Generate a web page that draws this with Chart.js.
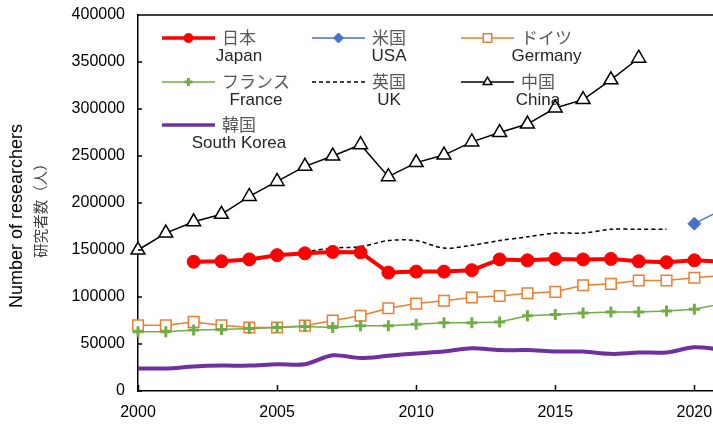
<!DOCTYPE html>
<html>
<head>
<meta charset="utf-8">
<script src="https://cdn.jsdelivr.net/npm/chart.js@4.4.1/dist/chart.umd.min.js"></script>
<style>
  html, body { margin: 0; padding: 0; background: #ffffff; overflow: hidden; }
  #wrap { width: 713px; height: 426px; position: relative; }
</style>
</head>
<body>
<div id="wrap"><canvas id="chart" width="713" height="426"></canvas></div>
<script>
// Number of researchers by country, 2000-2021
const years = [2000, 2001, 2002, 2003, 2004, 2005, 2006, 2007, 2008, 2009, 2010,
               2011, 2012, 2013, 2014, 2015, 2016, 2017, 2018, 2019, 2020, 2021];

const japan   = [null, null, 137500, 138000, 140000, 144500, 146500, 148000, 147500, 126000, 127000,
                 127000, 128500, 140000, 139000, 140500, 140000, 140500, 138000, 137000, 139000, 137500];
const usa     = [null, null, null, null, null, null, null, null, null, null, null,
                 null, null, null, null, null, null, null, null, null, 178000, 193000];
const germany = [70000, 70000, 73500, 70000, 67500, 67500, 69500, 75000, 80000, 88000, 93000,
                 96000, 99500, 101000, 104000, 105500, 112500, 114000, 117500, 117500, 120500, 123000];
const france  = [63000, 63000, 65000, 65500, 66500, 67500, 68500, 67500, 69500, 69500, 71000,
                 72500, 72500, 73500, 80000, 81500, 83000, 84000, 84000, 85000, 87000, 93000];
const uk      = [null, null, null, null, null, 143500, 148000, 152000, 153500, 160000, 160000,
                 152000, 155000, 160000, 164000, 168000, 168000, 172000, 172000, 172000, null, null];
const china   = [150000, 168000, 180000, 188000, 207000, 223000, 239000, 250000, 262000, 228000, 243000,
                 251000, 265000, 275000, 284000, 301000, 310000, 331000, 354000, null, null, null];
const korea   = [24000, 24000, 26000, 27000, 27000, 28500, 28500, 38000, 35000, 37500, 40000,
                 42000, 45500, 43500, 43500, 42000, 42000, 39500, 41000, 41000, 46500, 44000];

const xTicks = [2000, 2005, 2010, 2015, 2020];
const yTicks = [0, 50000, 100000, 150000, 200000, 250000, 300000, 350000, 400000];

const legendRows = [
  [{ jp: '日本', en: 'Japan', key: 'japan' }, { jp: '米国', en: 'USA', key: 'usa' }, { jp: 'ドイツ', en: 'Germany', key: 'germany' }],
  [{ jp: 'フランス', en: 'France', key: 'france' }, { jp: '英国', en: 'UK', key: 'uk' }, { jp: '中国', en: 'China', key: 'china' }],
  [{ jp: '韓国', en: 'South Korea', key: 'korea' }]
];

const pts = arr => years.map((y, i) => ({ x: y, y: arr[i] }));

const FONT_EN = "'Liberation Sans', Arial, sans-serif";
const FONT_JP = "'Noto Sans CJK JP', 'Noto Sans', sans-serif";

const styles = {
  japan:   { color: '#ff0000', width: 4,   point: 'circle',   radius: 6.5, fill: '#ff0000', pw: 1,   dash: [], lr: 4.5 },
  usa:     { color: '#4472c4', width: 1.5, point: 'rectRot',  radius: 6.5, fill: '#4472c4', pw: 1,   dash: [], lr: 5 },
  germany: { color: '#ed7d31', width: 1.5, point: 'rect',     radius: 7.5, fill: '#ffffff', pw: 1.5, dash: [], lr: 6 },
  france:  { color: '#70ad47', width: 1.5, point: 'cross',    radius: 5.5, fill: '#70ad47', pw: 3,   dash: [], lr: 4 },
  uk:      { color: '#000000', width: 1.5, point: false,      radius: 0,   fill: '#000000', pw: 1,   dash: [4, 3], lr: 0 },
  china:   { color: '#000000', width: 1.5, point: 'triangle', radius: 8,   fill: '#ffffff', pw: 1.5, dash: [], lr: 5 },
  korea:   { color: '#7030a0', width: 4,   point: false,      radius: 0,   fill: '#7030a0', pw: 1,   dash: [], lr: 0 }
};

function makeDataset(key, label, arr, order, tension) {
  const s = styles[key];
  return {
    label: label,
    data: pts(arr),
    borderColor: s.color,
    backgroundColor: s.fill,
    borderWidth: s.width,
    borderDash: s.dash,
    pointStyle: s.point,
    pointRadius: s.radius,
    pointBackgroundColor: s.fill,
    pointBorderColor: s.color,
    pointBorderWidth: s.pw,
    tension: tension,
    spanGaps: false,
    clip: { left: 12, top: 12, right: 0, bottom: 12 },
    order: order
  };
}

const datasets = [
  makeDataset('japan', '日本 Japan', japan, 1, 0),
  makeDataset('usa', '米国 USA', usa, 2, 0),
  makeDataset('germany', 'ドイツ Germany', germany, 4, 0),
  makeDataset('france', 'フランス France', france, 3, 0),
  makeDataset('uk', '英国 UK', uk, 5, 0.3),
  makeDataset('china', '中国 China', china, 0, 0),
  makeDataset('korea', '韓国 South Korea', korea, 6, 0.3)
];

function drawMarker(ctx, style, x, y, r, s) {
  ctx.save();
  ctx.lineWidth = s.pw;
  ctx.strokeStyle = s.color;
  ctx.fillStyle = s.fill;
  ctx.beginPath();
  if (style === 'circle') {
    ctx.arc(x, y, r, 0, Math.PI * 2);
    ctx.fill(); ctx.stroke();
  } else if (style === 'rectRot') {
    ctx.moveTo(x, y - r); ctx.lineTo(x + r, y); ctx.lineTo(x, y + r); ctx.lineTo(x - r, y); ctx.closePath();
    ctx.fill(); ctx.stroke();
  } else if (style === 'rect') {
    const h = r * Math.SQRT1_2;
    ctx.rect(x - h, y - h, 2 * h, 2 * h);
    ctx.fill(); ctx.stroke();
  } else if (style === 'cross') {
    ctx.moveTo(x - r, y); ctx.lineTo(x + r, y); ctx.moveTo(x, y - r); ctx.lineTo(x, y + r);
    ctx.stroke();
  } else if (style === 'triangle') {
    for (let k = 0; k < 3; k++) {
      const a = -Math.PI / 2 + k * 2 * Math.PI / 3;
      const px = x + Math.cos(a) * r, py = y + Math.sin(a) * r;
      if (k === 0) ctx.moveTo(px, py); else ctx.lineTo(px, py);
    }
    ctx.closePath();
    ctx.fill(); ctx.stroke();
  }
  ctx.restore();
}

// Axis decorations: inward tick marks, top frame line, two-line axis title
const axisDecor = {
  id: 'axisDecor',
  afterDraw(chart) {
    const { ctx, chartArea: a, scales } = chart;
    ctx.save();
    ctx.strokeStyle = '#000';
    ctx.lineWidth = 1.5;
    ctx.beginPath();
    ctx.moveTo(a.left, a.top); ctx.lineTo(a.right, a.top);
    xTicks.forEach(v => {
      const px = Math.round(scales.x.getPixelForValue(v)) + 0.5;
      ctx.moveTo(px, a.bottom); ctx.lineTo(px, a.bottom - 6);
    });
    yTicks.forEach(v => {
      const py = Math.round(scales.y.getPixelForValue(v));
      ctx.moveTo(a.left, py); ctx.lineTo(a.left + 4, py);
    });
    ctx.stroke();

    // Y-axis title (English and Japanese, rotated)
    ctx.fillStyle = '#000';
    ctx.textAlign = 'center';
    ctx.textBaseline = 'middle';
    ctx.save();
    ctx.translate(17, 216);
    ctx.rotate(-Math.PI / 2);
    ctx.font = '18px ' + FONT_EN;
    ctx.fillText('Number of researchers', 0, 0);
    ctx.restore();
    ctx.save();
    ctx.translate(40, 207);
    ctx.rotate(-Math.PI / 2);
    ctx.fillStyle = '#404040';
    ctx.font = '14.5px ' + FONT_JP;
    ctx.fillText('研究者数（人）', 0, 0);
    ctx.restore();
    ctx.restore();
  }
};

// Legend inside the plot: sample line + marker, Japanese name, English name below
const legendBox = {
  id: 'legendBox',
  afterDraw(chart) {
    const ctx = chart.ctx;
    const colX = [162, 312, 461];
    const rowY = [38, 82, 125];
    const lineLen = 53;
    ctx.save();
    legendRows.forEach((row, ri) => {
      row.forEach((item, ci) => {
        const s = styles[item.key];
        const x0 = colX[ci], y = rowY[ri];
        ctx.save();
        ctx.strokeStyle = s.color;
        ctx.lineWidth = s.width === 4 ? 3.5 : s.width;
        ctx.setLineDash(s.dash);
        ctx.beginPath();
        ctx.moveTo(x0, y); ctx.lineTo(x0 + lineLen, y);
        ctx.stroke();
        ctx.restore();
        if (s.point) drawMarker(ctx, s.point, x0 + lineLen / 2, y, s.lr, s);

        ctx.font = '17px ' + FONT_JP;
        ctx.textAlign = 'left';
        ctx.textBaseline = 'middle';
        ctx.fillStyle = '#595959';
        const jx = x0 + lineLen + 7;
        const jw = ctx.measureText(item.jp).width;
        ctx.fillText(item.jp, jx, y);
        ctx.font = '17px ' + FONT_EN;
        ctx.textAlign = 'center';
        ctx.fillStyle = '#262626';
        ctx.fillText(item.en, jx + jw / 2, y + 18);
      });
    });
    ctx.restore();
  }
};

new Chart(document.getElementById('chart'), {
  type: 'line',
  data: { datasets: datasets },
  options: {
    responsive: false,
    animation: false,
    events: [],
    layout: { autoPadding: false, padding: { top: 15, right: 0, bottom: 0, left: 0 } },
    plugins: { legend: { display: false }, tooltip: { enabled: false } },
    scales: {
      x: {
        type: 'linear',
        min: 2000,
        max: 2020.67,
        // invisible tick marks only reserve the gap between axis and labels
        grid: { display: true, drawOnChartArea: false, drawTicks: true, tickLength: 12, color: 'rgba(0,0,0,0)' },
        border: { display: true, color: '#000', width: 1.5 },
        ticks: {
          stepSize: 5,
          includeBounds: false,
          autoSkip: false,
          maxRotation: 0,
          color: '#000',
          padding: 0,
          font: { family: FONT_EN, size: 16 },
          callback: v => String(v)
        },
        afterFit(scale) { scale.height = 35; }
      },
      y: {
        min: 0,
        max: 400000,
        grid: { display: true, drawOnChartArea: false, drawTicks: true, tickLength: 13, color: 'rgba(0,0,0,0)' },
        border: { display: true, color: '#000', width: 1.5 },
        ticks: {
          stepSize: 50000,
          color: '#000',
          padding: 0,
          font: { family: FONT_EN, size: 16 },
          callback: v => String(v)
        },
        afterFit(scale) { scale.width = 138; }
      }
    }
  },
  plugins: [axisDecor, legendBox]
});
</script>
</body>
</html>
